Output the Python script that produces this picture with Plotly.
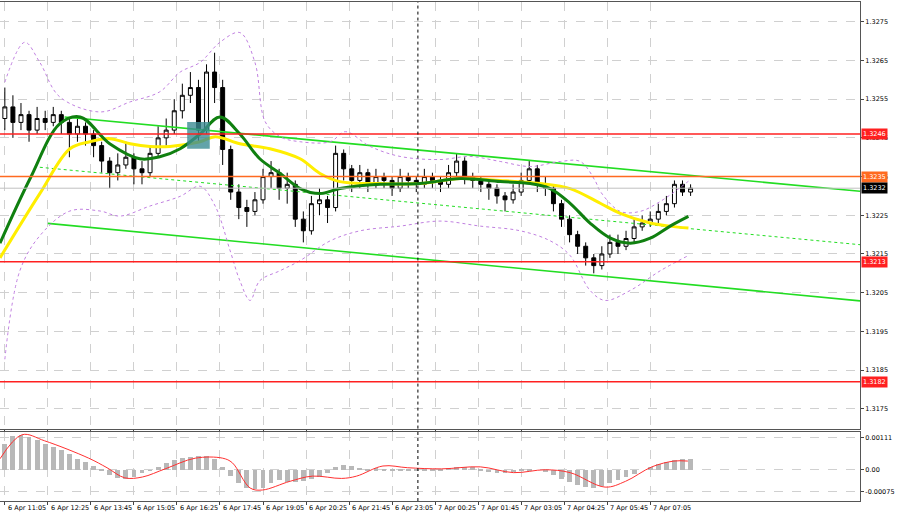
import plotly.graph_objects as go
from plotly.subplots import make_subplots

# ---- data ----
closes = [1.3253,1.3249,1.3251,1.3247,1.3250,1.3249,1.3251,1.3249,1.3246,1.3248,
          1.3246,1.3243,1.3239,1.3236,1.3238,1.3240,1.3237,1.3236,1.3241,1.3245,
          1.3247,1.3252,1.3256,1.3258,1.3247,1.3262,1.3258,1.3242,1.3231,1.3227,
          1.3226,1.3229,1.3235,1.3236,1.3232,1.3233,1.3224,1.3221,1.3228,1.3229,
          1.3227,1.3241,1.3237,1.3234,1.3236,1.3233,1.3235,1.3234,1.3232,1.3235,
          1.3234,1.3233,1.3235,1.3234,1.3233,1.3236,1.3239,1.3235,1.3234,1.3233,
          1.3232,1.3230,1.3229,1.3231,1.3234,1.3237,1.3233,1.3232,1.3228,1.3224,
          1.3220,1.3217,1.3214,1.3212,1.3215,1.3218,1.3217,1.3219,1.3222,1.3223,
          1.3224,1.3226,1.3228,1.3233,1.3231,1.3232]
first_open = 1.3250
highs = [1.3258,1.3256,1.3254,1.3252,1.3253,1.3252,1.3253,1.3252,1.3250,1.3250,
         1.3249,1.3247,1.3244,1.3240,1.3241,1.3244,1.3241,1.3239,1.3243,1.3248,
         1.3250,1.3255,1.3259,1.3262,1.3260,1.3264,1.3267,1.3260,1.3243,1.3233,
         1.3229,1.3231,1.3237,1.3239,1.3237,1.3236,1.3234,1.3226,1.3230,1.3232,
         1.3230,1.3243,1.3242,1.3238,1.3238,1.3237,1.3237,1.3236,1.3235,1.3237,
         1.3236,1.3235,1.3237,1.3236,1.3235,1.3238,1.3241,1.3240,1.3236,1.3235,
         1.3234,1.3233,1.3231,1.3233,1.3236,1.3239,1.3238,1.3235,1.3233,1.3229,
         1.3225,1.3221,1.3218,1.3215,1.3217,1.3220,1.3220,1.3221,1.3224,1.3225,
         1.3226,1.3228,1.3230,1.3234,1.3234,1.3233]
lows = [1.3247,1.3245,1.3247,1.3244,1.3246,1.3247,1.3248,1.3246,1.3240,1.3244,
        1.3243,1.3240,1.3236,1.3232,1.3234,1.3237,1.3233,1.3233,1.3235,1.3240,
        1.3243,1.3246,1.3250,1.3254,1.3244,1.3246,1.3254,1.3238,1.3229,1.3224,
        1.3222,1.3225,1.3228,1.3232,1.3229,1.3228,1.3222,1.3218,1.3220,1.3225,
        1.3223,1.3226,1.3234,1.3231,1.3232,1.3231,1.3232,1.3232,1.3230,1.3231,
        1.3232,1.3231,1.3232,1.3232,1.3231,1.3232,1.3235,1.3233,1.3232,1.3231,
        1.3229,1.3228,1.3226,1.3228,1.3230,1.3233,1.3231,1.3230,1.3226,1.3222,
        1.3218,1.3215,1.3212,1.3210,1.3211,1.3214,1.3215,1.3216,1.3218,1.3221,
        1.3222,1.3223,1.3225,1.3227,1.3230,1.3230]
macd_hist = [0.0009,0.00118,0.00122,0.00115,0.00105,0.00092,0.0008,0.0007,0.00055,0.0004,
             0.0003,0.00015,0.00002,-0.00015,-0.00028,-0.0003,-0.00022,-0.0001,-0.00002,0.0001,
             0.00025,0.00035,0.00042,0.00045,0.0005,0.00048,0.0004,0.0001,-0.0002,-0.00045,
             -0.0006,-0.00066,-0.0006,-0.00045,-0.00035,-0.0004,-0.0004,-0.00038,-0.0003,-0.00022,
             -0.0001,0.00012,0.00017,0.00015,0.00008,0.00005,0.00006,0.00004,0.00003,0.00005,
             0.00004,0.00003,0.00002,0.00004,0.00005,0.00007,0.0001,0.00012,0.0001,0.00005,
             -0.00003,-0.00008,-0.0001,-0.00005,0.00002,0.00003,0.0,-0.00005,-0.00015,-0.0003,
             -0.0004,-0.0005,-0.00058,-0.0006,-0.00055,-0.00045,-0.00035,-0.00025,-0.00012,0.0,
             0.0001,0.0002,0.00028,0.00035,0.0004,0.0004]
bar_minutes = 15  # bar spacing (minutes after 6 Apr 11:05)

# indicator lines (time in minutes after 6 Apr 11:05, value)
ma_fast_t = [-9,47,102,140,195,251,288,326,363,400,437,474,512,549,586,623,698,772,847,921,977,1014,1051,1088,1126,1163,1200,1237,1271]
ma_fast_v = [1.32178,1.32345,1.32486,1.32504,1.32435,1.32396,1.32401,1.32422,1.32460,1.32504,1.32460,1.32396,1.32358,1.32319,1.32306,1.32319,1.32330,1.32332,1.32345,1.32337,1.32332,1.32319,1.32281,1.32230,1.32191,1.32178,1.32191,1.32222,1.32247]
ma_slow_t = [-9,65,121,158,195,233,270,307,363,391,437,493,549,586,623,698,772,847,921,995,1051,1107,1144,1200,1237,1271]
ma_slow_v = [1.32140,1.32306,1.32422,1.32440,1.32448,1.32435,1.32428,1.32428,1.32440,1.32453,1.32435,1.32422,1.32396,1.32358,1.32337,1.32332,1.32332,1.32345,1.32340,1.32332,1.32319,1.32281,1.32255,1.32230,1.32222,1.32217]
bb_up_t = [0,37,65,102,177,233,288,326,363,400,437,465,484,512,549,605,633,679,735,809,865,921,977,1033,1070,1098,1107,1144,1181,1219,1271]
bb_up_v = [1.32594,1.32697,1.32645,1.32556,1.32517,1.32543,1.32569,1.32620,1.32645,1.32697,1.32722,1.32645,1.32492,1.32453,1.32440,1.32440,1.32466,1.32428,1.32402,1.32394,1.32402,1.32389,1.32376,1.32389,1.32389,1.32338,1.32312,1.32260,1.32260,1.32286,1.32338]
bb_lo_t = [0,28,65,121,177,214,270,326,363,391,419,437,456,474,512,549,605,661,735,809,884,958,1014,1051,1088,1116,1163,1219,1271]
bb_lo_v = [1.31878,1.32107,1.32197,1.32261,1.32261,1.32248,1.32274,1.32299,1.32325,1.32274,1.32158,1.32081,1.32030,1.32081,1.32107,1.32133,1.32184,1.32210,1.32222,1.32235,1.32222,1.32210,1.32184,1.32146,1.32056,1.32030,1.32056,1.32107,1.32146]
signal_t = [-9,32,74,156,190,223,256,298,354,405,423,456,479,530,572,626,654,703,749,812,884,946,1005,1051,1116,1154,1203,1244,1270]
signal_v = [0.00038,0.00121,0.00100,0.00040,0.00007,-0.00028,-0.00025,0.00003,0.00040,0.00040,0.00024,-0.00063,-0.00070,-0.00040,-0.00022,-0.00030,-0.00022,0.00013,0.00007,0.00003,0.00010,-0.00010,0.0,-0.00010,-0.00060,-0.00040,0.00010,0.00030,0.00030]

chan_upper = ([111, 1590], [1.32504, 1.32312])
chan_lower = ([80, 1590], [1.32229, 1.32029])
chan_mid = ([65, 1590], [1.32374, 1.32174])
levels = [1.3246, 1.3235, 1.3213, 1.3182]
level_colors = ["#ff2020", "#ff6a20", "#ff2020", "#ff2020"]
last_price = 1.3232
box = ([339, 381], [1.32422, 1.32491])

tick_minutes = [0,80,160,240,320,400,480,560,640,720,800,880,960,1040,1120,1200]
tick_labels = ["6 Apr 11:05","6 Apr 12:25","6 Apr 13:45","6 Apr 15:05","6 Apr 16:25","6 Apr 17:45",
               "6 Apr 19:05","6 Apr 20:25","6 Apr 21:45","6 Apr 23:05","7 Apr 00:25","7 Apr 01:45",
               "7 Apr 03:05","7 Apr 04:25","7 Apr 05:45","7 Apr 07:05"]
price_ticks = [1.3175,1.3185,1.3195,1.3205,1.3215,1.3225,1.3235,1.3245,1.3255,1.3265,1.3275]
price_tick_text = ["1.3175","1.3185","1.3195","1.3205","1.3215","1.3225","1.3235","1.3245","1.3255","1.3265","1.3275"]
macd_ticks = [0.00111, 0.0, -0.00075]
day_split = 768

# ---- figure ----
xs = [i * bar_minutes for i in range(len(closes))]
opens = [first_open] + closes[:-1]
XR = [-9, 1590]

fig = make_subplots(rows=2, cols=1, shared_xaxes=True, vertical_spacing=0.006,
                    row_heights=[0.86, 0.14])

fig.add_shape(type="rect", x0=box[0][0], x1=box[0][1], y0=box[1][0], y1=box[1][1],
              fillcolor="#3c8c94", opacity=0.8, line_width=0, row=1, col=1)
for lv, col in zip(levels, level_colors):
    fig.add_shape(type="line", x0=XR[0], x1=XR[1], y0=lv, y1=lv,
                  line=dict(color=col, width=1.5), row=1, col=1)
fig.add_shape(type="line", x0=XR[0], x1=XR[1], y0=last_price, y1=last_price,
              line=dict(color="#c0c0c0", width=1), row=1, col=1)
for ch, dash, w in [(chan_upper, "solid", 1.6), (chan_lower, "solid", 1.6), (chan_mid, "dot", 1)]:
    fig.add_trace(go.Scatter(x=ch[0], y=ch[1], mode="lines", line=dict(color="#22dd22", width=w, dash=dash),
                             hoverinfo="skip"), row=1, col=1)
fig.add_trace(go.Scatter(x=bb_up_t, y=bb_up_v, mode="lines", line=dict(color="#c080e0", width=1, dash="dot", shape="spline")), row=1, col=1)
fig.add_trace(go.Scatter(x=bb_lo_t, y=bb_lo_v, mode="lines", line=dict(color="#c080e0", width=1, dash="dot", shape="spline")), row=1, col=1)
fig.add_trace(go.Candlestick(x=xs, open=opens, high=highs, low=lows, close=closes,
                             increasing=dict(line=dict(color="#000000", width=1), fillcolor="#ffffff"),
                             decreasing=dict(line=dict(color="#000000", width=1), fillcolor="#000000"),
                             whiskerwidth=0), row=1, col=1)
fig.add_trace(go.Scatter(x=ma_slow_t, y=ma_slow_v, mode="lines", line=dict(color="#ffee00", width=3, shape="spline")), row=1, col=1)
fig.add_trace(go.Scatter(x=ma_fast_t, y=ma_fast_v, mode="lines", line=dict(color="#108010", width=3, shape="spline")), row=1, col=1)

fig.add_trace(go.Bar(x=xs, y=macd_hist, marker_color="#b8b8b8", marker_line_width=0, width=9), row=2, col=1)
fig.add_trace(go.Scatter(x=signal_t, y=signal_v, mode="lines", line=dict(color="#ff3030", width=1, shape="spline")), row=2, col=1)

for r in (1, 2):
    fig.add_vline(x=day_split, line=dict(color="#000000", width=1, dash="dot"), row=r, col=1)

grid = dict(showgrid=True, gridcolor="#d0d0d0", griddash="dash", gridwidth=1)
fig.update_xaxes(range=XR, tickvals=tick_minutes, showticklabels=False, showline=True, linecolor="#555",
                 mirror=True, ticks="outside", ticklen=3, automargin=False,
                 rangeslider_visible=False, zeroline=False, **grid)
fig.update_yaxes(side="right", showline=True, linecolor="#555", mirror=True, ticks="outside", ticklen=3,
                 tickfont=dict(size=6.5, color="#000"), zeroline=False, automargin=False, **grid)
fig.update_yaxes(range=[1.31699, 1.32801], tickvals=price_ticks, ticktext=price_tick_text, row=1, col=1)
fig.update_yaxes(range=[-0.00108, 0.00132], tickvals=macd_ticks, ticktext=["0.00111", "0.00", "-0.00075"], row=2, col=1)

for tm, tl in zip(tick_minutes, tick_labels):
    fig.add_annotation(x=tm, xref="x2", y=0, yref="paper", xanchor="left", yanchor="top", yshift=-1, xshift=1,
                       text=tl, showarrow=False, font=dict(size=6.5, color="#000"))

for lv, col in zip(levels + [last_price], level_colors + ["#000000"]):
    fig.add_annotation(x=1.0, xref="paper", y=lv, yref="y", xanchor="left", xshift=1,
                       text=f"{lv:.4f}", showarrow=False, bgcolor=col, font=dict(size=6.5, color="#ffffff"),
                       borderpad=1)

fig.update_layout(width=900, height=514, margin=dict(l=0, r=40, t=2, b=13),
                  paper_bgcolor="#ffffff", plot_bgcolor="#ffffff", showlegend=False,
                  font=dict(family="DejaVu Sans"), bargap=0)
fig.write_html("out.html", config={"displayModeBar": False},
               post_script="document.body.style.margin='0';document.body.style.overflow='hidden';")
